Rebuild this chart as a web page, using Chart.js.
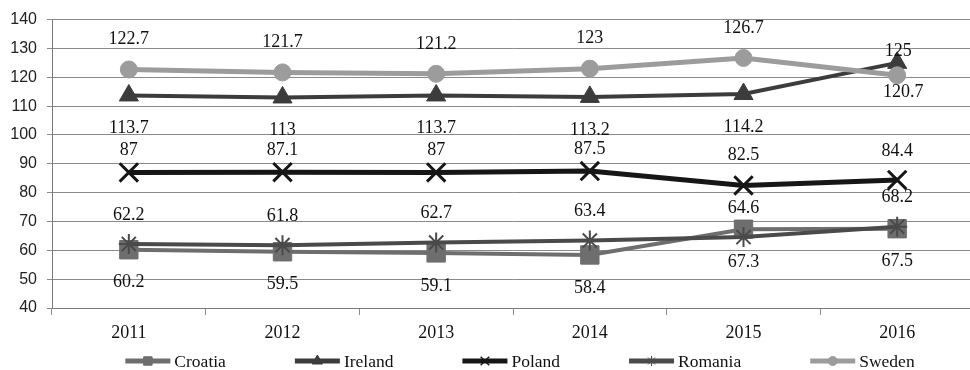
<!DOCTYPE html>
<html>
<head>
<meta charset="utf-8">
<script src="https://cdn.jsdelivr.net/npm/chart.js@4.4.1/dist/chart.umd.min.js"></script>
<style>
  html, body { margin: 0; padding: 0; background: #fff; overflow: hidden; }
  #wrap { width: 970px; height: 370px; overflow: hidden; }
  canvas { display: block; }
</style>
</head>
<body>
<div id="wrap"><canvas id="chart" width="990" height="370"></canvas></div>
<script>
// Yearly index values per country
const years   = ['2011', '2012', '2013', '2014', '2015', '2016'];
const croatia = [60.2, 59.5, 59.1, 58.4, 67.3, 67.5];
const ireland = [113.7, 113, 113.7, 113.2, 114.2, 125];
const poland  = [87, 87.1, 87, 87.5, 82.5, 84.4];
const romania = [62.2, 61.8, 62.7, 63.4, 64.6, 68.2];
const sweden  = [122.7, 121.7, 121.2, 123, 126.7, 120.7];
const yTicks  = { min: 40, max: 140, step: 10 };

const SERIF = '"Liberation Serif", "Times New Roman", serif';
const SANS  = '"Liberation Sans", Arial, sans-serif';

// Where each series puts its value labels (pixel offsets from the point)
const labelPlacement = {
  Croatia: { dy: 33, at: {} },
  Ireland: { dy: 33, at: { 5: { dx: 1, dy: -12 } } },
  Poland:  { dy: -22, at: { 4: { dy: -30 }, 5: { dy: -29 } } },
  Romania: { dy: -29, at: {} },
  Sweden:  { dy: -30, at: { 5: { dx: 6, dy: 17 } } }
};

// Marker look inside the legend
const legendMarker = {
  Croatia: { radius: 6, borderWidth: 1 },
  Ireland: { radius: 6, borderWidth: 1 },
  Poland:  { radius: 6, borderWidth: 1.5 },
  Romania: { radius: 5, borderWidth: 1 },
  Sweden:  { radius: 4.5, borderWidth: 1 }
};

function series(label, data, color, style, radius, lineWidth, markerWidth, order) {
  return {
    label, data, order,
    borderColor: color,
    backgroundColor: color,
    borderWidth: lineWidth,
    tension: 0,
    pointStyle: style,
    pointRadius: radius,
    pointHoverRadius: radius,
    pointBackgroundColor: color,
    pointBorderColor: color,
    pointBorderWidth: markerWidth
  };
}

const valueLabels = {
  id: 'valueLabels',
  afterDatasetsDraw(chart) {
    const ctx = chart.ctx;
    ctx.save();
    ctx.font = '18px ' + SERIF;
    ctx.fillStyle = '#111';
    ctx.textAlign = 'center';
    ctx.textBaseline = 'middle';
    chart.data.datasets.forEach((ds, i) => {
      const meta = chart.getDatasetMeta(i);
      const place = labelPlacement[ds.label];
      meta.data.forEach((pt, j) => {
        const o = place.at[j] || {};
        const dx = o.dx || 0;
        const dy = (o.dy !== undefined) ? o.dy : place.dy;
        ctx.fillText(String(ds.data[j]), pt.x + dx, pt.y + dy);
      });
    });
    ctx.restore();
  }
};

const lineLegend = {
  id: 'lineLegend',
  afterDraw(chart) {
    const ctx = chart.ctx;
    const cy = 361, sample = 45, gap = 4, spacing = 69, center = 520;
    ctx.save();
    ctx.font = '17.5px ' + SERIF;
    const items = chart.data.datasets.map(ds => ({ ds, w: sample + gap + ctx.measureText(ds.label).width }));
    const total = items.reduce((s, it) => s + it.w, 0) + spacing * (items.length - 1);
    let x = center - total / 2;
    items.forEach(({ ds, w }) => {
      ctx.strokeStyle = ds.borderColor;
      ctx.lineWidth = 5;
      ctx.lineCap = 'butt';
      ctx.beginPath();
      ctx.moveTo(x, cy);
      ctx.lineTo(x + sample, cy);
      ctx.stroke();
      const m = legendMarker[ds.label];
      ctx.fillStyle = ds.pointBackgroundColor;
      ctx.strokeStyle = ds.pointBorderColor;
      ctx.lineWidth = m.borderWidth;
      Chart.helpers.drawPoint(ctx, { pointStyle: ds.pointStyle, radius: m.radius, borderWidth: m.borderWidth, rotation: 0 }, x + sample / 2, cy);
      ctx.fillStyle = '#111';
      ctx.textAlign = 'left';
      ctx.textBaseline = 'middle';
      ctx.fillText(ds.label, x + sample + gap, cy + 1);
      x += w + spacing;
    });
    ctx.restore();
  }
};

new Chart(document.getElementById('chart'), {
  type: 'line',
  data: {
    labels: years,
    datasets: [
      series('Croatia', croatia, '#6e6e6e', 'rect', 13, 4, 1, 5),
      series('Ireland', ireland, '#3c3c3c', 'triangle', 11, 4, 1, 4),
      series('Poland',  poland,  '#161616', 'crossRot', 13, 5, 3, 3),
      series('Romania', romania, '#4a4a4a', 'star', 10, 4, 2, 2),
      series('Sweden',  sweden,  '#9c9c9c', 'circle', 8.5, 5, 1, 1)
    ]
  },
  options: {
    responsive: false,
    animation: false,
    devicePixelRatio: 1,
    layout: { padding: { top: 19, right: 14, bottom: 0, left: 0 } },
    plugins: {
      legend: { display: false },
      tooltip: { enabled: false }
    },
    scales: {
      x: {
        offset: true,
        grid: { display: true, drawOnChartArea: false, drawTicks: true, tickLength: 7, color: '#8a8a8a', offset: true },
        border: { display: true, color: '#7a7a7a', width: 1 },
        ticks: { color: '#111', font: { family: SERIF, size: 18 }, padding: 7 },
        afterFit(scale) { scale.height = 62; }
      },
      y: {
        min: yTicks.min,
        max: yTicks.max,
        grid: { color: '#8a8a8a', lineWidth: 1, tickLength: 5, drawTicks: true },
        border: { display: true, color: '#7a7a7a', width: 1 },
        ticks: { stepSize: yTicks.step, color: '#222', font: { family: SANS, size: 16 }, padding: 10 },
        afterFit(scale) { scale.width = 52; }
      }
    }
  },
  plugins: [valueLabels, lineLegend]
});
</script>
</body>
</html>
